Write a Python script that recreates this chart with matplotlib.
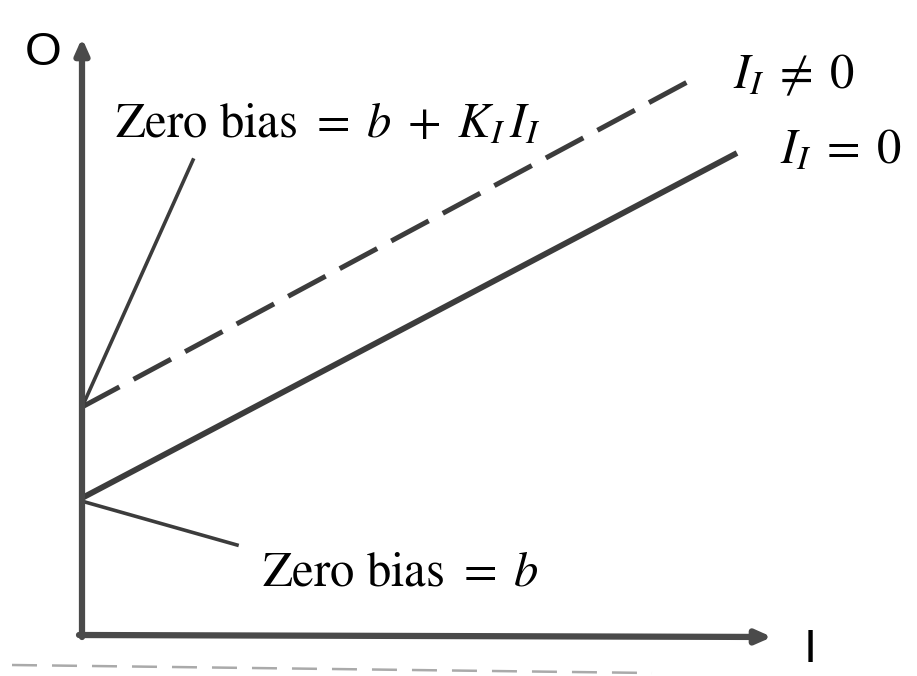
import matplotlib
matplotlib.use("Agg")
import matplotlib.pyplot as plt

plt.rcParams['mathtext.fontset'] = 'stix'

# ---- schematic data (arbitrary units, origin at axes corner) ----
solid_x = [0, 655]          # I_I = 0 line
solid_y = [137, 482]
dash_x = [0, 611]           # I_I != 0 line
dash_y = [228, 556]
leaderK_x = [1, 111]        # leader to "Zero bias = b + K_I I_I"
leaderK_y = [230, 475]
leaderB_x = [3, 155]        # leader to "Zero bias = b"
leaderB_y = [133, 90]
yaxis_top = 597
xaxis_right = 690
scan_x = [-70, 570]          # faint scan-edge line at bottom
scan_y = [-30, -38]

lbl_zero_bk = r"Zero bias $=\;b\;+\;K_I\,I_I$"
lbl_zero_b = r"Zero bias $=\;b$"
lbl_neq = r"$I_I\;\neq\;0$"
lbl_eq = r"$I_I\;=\;0$"
lbl_O = "O"
lbl_I = "I"

W, H = 917, 676
fig = plt.figure(figsize=(W / 100, H / 100), dpi=100)
ax = fig.add_axes([0, 0, 1, 1])
ax.set_xlim(-82, W - 82)
ax.set_ylim(-(H - 635), 635)
ax.axis('off')

lc = '#3c3c3c'
# axes arrows
ax.annotate('', xy=(0, yaxis_top), xytext=(0, -2),
            arrowprops=dict(arrowstyle='-|>,head_length=0.9,head_width=0.4',
                            color='#4a4a4a', lw=4.5, shrinkA=0, shrinkB=0))
ax.annotate('', xy=(xaxis_right, -2), xytext=(-3, 0),
            arrowprops=dict(arrowstyle='-|>,head_length=0.9,head_width=0.4',
                            color='#4a4a4a', lw=4.5, shrinkA=0, shrinkB=0))

ax.plot(solid_x, solid_y, color=lc, lw=4.2, solid_capstyle='butt')
ax.plot(dash_x, dash_y, color=lc, lw=3.6, linestyle=(0, (8.5, 3.2)),
        dash_capstyle='butt')
ax.plot(leaderK_x, leaderK_y, color=lc, lw=2.6)
ax.plot(leaderB_x, leaderB_y, color=lc, lw=2.6)
ax.plot(scan_x, scan_y, color='#aaaaaa', lw=1.8, linestyle=(0, (10, 6)))

serif = 'STIXGeneral'
fs = 35
ax.text(33, 498, lbl_zero_bk, fontsize=fs, family=serif, ha='left', va='baseline')
ax.text(180, 50, lbl_zero_b, fontsize=fs, family=serif, ha='left', va='baseline')
ax.text(651, 547, lbl_neq, fontsize=fs, family=serif, ha='left', va='baseline')
ax.text(698, 472, lbl_eq, fontsize=fs, family=serif, ha='left', va='baseline')
ax.text(-57, 570, lbl_O, fontsize=34, family='Liberation Sans', ha='left', va='baseline')
ax.text(722, -27, lbl_I, fontsize=34, family='Liberation Sans', ha='left', va='baseline')

fig.savefig('out.png', dpi=100)
